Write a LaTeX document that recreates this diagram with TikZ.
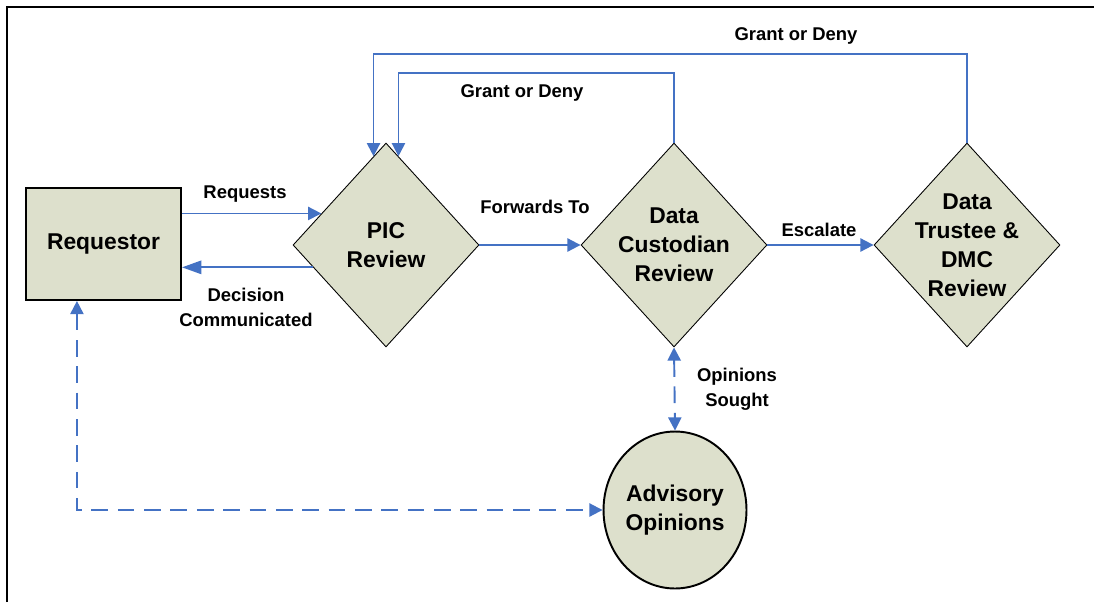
\documentclass[tikz,border=0pt]{standalone}
\usepackage{fontspec}
\setmainfont{Liberation Sans}
\usetikzlibrary{shapes.geometric,arrows.meta}
\definecolor{boxfill}{RGB}{221,224,204}
\definecolor{flowblue}{RGB}{68,114,196}

\begin{document}
\begin{tikzpicture}[x=0.02cm,y=-0.02cm,
    box/.style={draw=black, line width=1.1pt, fill=boxfill, inner sep=0pt},
    decision/.style={box, diamond, line width=0.5pt, minimum width=3.72cm, minimum height=4.08cm},
    nodetext/.style={font=\bfseries\fontsize{13}{16.5}\selectfont, align=center},
    flowlabel/.style={font=\bfseries\fontsize{10.5}{14.2}\selectfont, align=center},
    flow/.style={draw=flowblue, line width=1.1pt, -{Triangle[length=7.5pt,width=7.5pt]}},
    dflow/.style={flow, dash pattern=on 9.5pt off 5.5pt, {Triangle[length=7.5pt,width=7.5pt]}-{Triangle[length=7.5pt,width=7.5pt]}}]
  \useasboundingbox (0,0) rectangle (1094,602);
  % Frame of the page
  \draw[line width=1.2pt] (7,602) -- (7,7) -- (1094,7);

  % Boxes and decisions
  \node[box, rectangle, minimum width=3.1cm, minimum height=2.24cm, nodetext] (req) at (103.5,244) {Requestor};
  \node[decision, label={[name=pictext, nodetext]center:PIC\\Review}] (pic) at (386,245) {};
  \node[decision, label={[name=dctext, nodetext]center:Data\\Custodian\\Review}] (dc) at (674,245) {};
  \node[decision, label={[name=dttext, nodetext]center:Data\\Trustee \&\\DMC\\Review}] (dt) at (967,245) {};
  \node[box, ellipse, minimum width=2.86cm, minimum height=3.14cm, nodetext] (ao) at (675,510) {Advisory\\Opinions};

  % Flows between them
  \draw[flow, line width=0.9pt] (pic.154 -| req.east) -- (pic.154);
  \draw[flow, line width=1.3pt, -{Triangle[length=11pt,width=7.5pt]}] (pic.197) -- (pic.197 -| req.east);
  \draw[flow] (pic.east) -- (dc.west);
  \draw[flow] (dc.east) -- (dt.west);
  \draw[flow] (dc.north) -- ++(0,-70) -| (pic.82);
  \draw[flow] (dt.north) -- ++(0,-89) -| (pic.98);
  \draw[dflow] (dc.south) -- (ao.north);
  \draw[dflow] (req.245) |- (ao.west);

  % Labels
  \node[flowlabel] (lreq) at (245,194) {Requests};
  \node[flowlabel] (ldec) at (246,307.5) {Decision\\Communicated};
  \node[flowlabel] (lfwd) at (535,207) {Forwards To};
  \node[flowlabel] (lesc) at (819,230) {Escalate};
  \node[flowlabel] (lgrant) at (522,93) {Grant or Deny};
  \node[flowlabel] (lgrantdt) at (796,36) {Grant or Deny};
  \node[flowlabel] (lopin) at (737,389) {Opinions\\Sought};
\end{tikzpicture}
\end{document}
